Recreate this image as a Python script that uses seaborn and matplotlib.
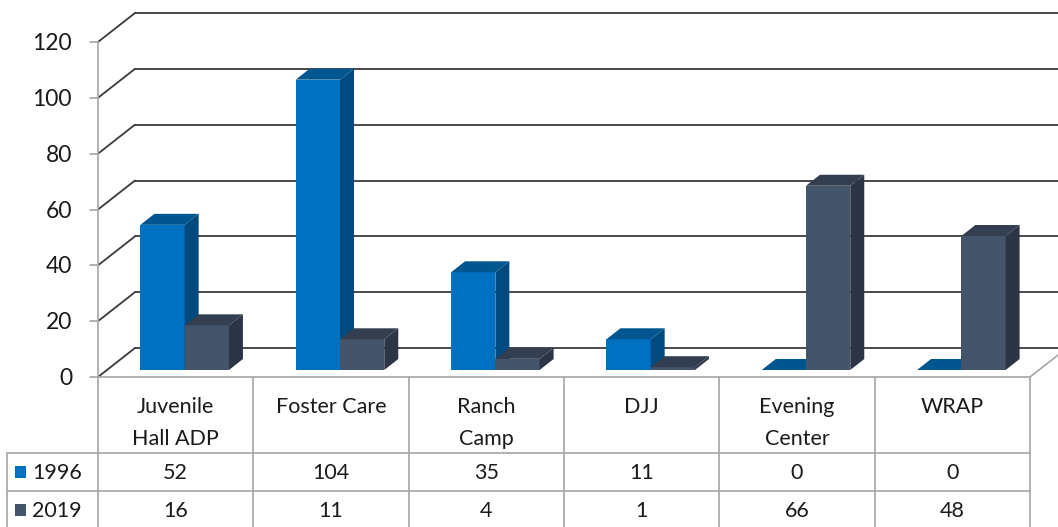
import matplotlib
matplotlib.use("Agg")
import matplotlib.pyplot as plt
import seaborn as sns
import pandas as pd
from matplotlib.patches import Polygon, Rectangle
from matplotlib.transforms import blended_transform_factory

# dados do gráfico
categorias = ["Juvenile\nHall ADP", "Foster Care", "Ranch\nCamp", "DJJ", "Evening\nCenter", "WRAP"]
series = ["1996", "2019"]
valores_1996 = [52, 104, 35, 11, 0, 0]
valores_2019 = [16, 11, 4, 1, 66, 48]
ticks_y = [0, 20, 40, 60, 80, 100, 120]

# cores de cada face das colunas (frente, lado, topo)
cores_frente = ["#0070C0", "#44546A"]
cores_lado = ["#004A80", "#2B3545"]
cores_topo = ["#00568F", "#333F50"]
cor_texto = "#1A1A1A"
cor_grade = "#3A3A3A"
cor_borda = "#A6A6A6"

sns.set_theme(style="white")
plt.rcParams["font.family"] = ["Lato", "DejaVu Sans"]

W, H = 1058, 527
fig = plt.figure(figsize=(W / 100, H / 100), dpi=100)
# plano frontal do gráfico: x 98..1030 px, y 377 (zero) .. 42 (120)
x0_px, x1_px, y0_px, y1_px = 98, 1030, 377, 42
ax = fig.add_axes([x0_px / W, (H - y0_px) / H, (x1_px - x0_px) / W, (y0_px - y1_px) / H])

df = pd.DataFrame({
    "categoria": categorias * 2,
    "serie": [s for s in series for _ in categorias],
    "valor": valores_1996 + valores_2019,
})
sns.barplot(data=df, x="categoria", y="valor", hue="serie", palette=cores_frente,
            width=0.57, saturation=1, linewidth=0, legend=False, ax=ax, zorder=3)
ax.set_xlim(-0.5, 5.5)
ax.set_ylim(0, 120)
ax.axis("off")

# conversão de pixels para unidades de dados
px_x = 6 / (x1_px - x0_px)
px_y = 120 / (y0_px - y1_px)
def dx(p):
    return p * px_x
def dy(p):
    return p * px_y

# parede do fundo: linhas de grade deslocadas em profundidade
prof_x, prof_y = dx(37), dy(29)
for t in ticks_y:
    ax.plot([-0.5, -0.5 + prof_x], [t, t + prof_y], color=cor_grade, lw=1.3, clip_on=False, zorder=1)
    ax.plot([-0.5 + prof_x, 5.5 + prof_x], [t + prof_y, t + prof_y], color=cor_grade, lw=1.3,
            clip_on=False, zorder=1)
    ax.plot([-0.5 - dx(8), -0.5], [t, t], color=cor_borda, lw=1.2, clip_on=False, zorder=1)
    ax.text(-0.5 - dx(26), t - dy(1.5), str(t), ha="right", va="center", fontsize=16.5, color=cor_texto)
ax.plot([-0.5, -0.5], [0, 120], color=cor_borda, lw=1.2, clip_on=False, zorder=1)
ax.plot([-0.5, 5.5, 5.5 + prof_x], [0, 0, prof_y], color=cor_borda, lw=1.2, clip_on=False, zorder=1)

# colunas em 3D: desloca a frente e acrescenta lado e topo
bx, by = dx(9), dy(7)
lado_x, lado_y = dx(14), dy(11)
barras = sorted(ax.patches, key=lambda p: p.get_x())
for i, p in enumerate(barras):
    s = i % 2
    x = p.get_x() + bx
    w = p.get_width()
    h = p.get_height()
    z = 3 + 2 * (i // 2) + s
    p.set_x(x)
    p.set_y(by)
    p.set_zorder(z)
    lado = Polygon([(x + w, by), (x + w, by + h), (x + w + lado_x, by + h + lado_y),
                    (x + w + lado_x, by + lado_y)], closed=True, facecolor=cores_lado[s],
                   edgecolor="none", zorder=z, clip_on=False)
    topo = Polygon([(x, by + h), (x + w, by + h), (x + w + lado_x, by + h + lado_y),
                    (x + lado_x, by + h + lado_y)], closed=True, facecolor=cores_topo[s],
                   edgecolor="none", zorder=z, clip_on=False)
    ax.add_patch(lado)
    ax.add_patch(topo)

# tabela de dados abaixo do gráfico
tr = blended_transform_factory(ax.transData, ax.transAxes)
def fy(py):
    return -(py - y0_px) / (y0_px - y1_px)

linhas_px = [377, 453, 491, 527]
esq = -0.5 - dx(91)
for k in range(7):
    ax.plot([k - 0.5, k - 0.5], [fy(377), fy(527)], color=cor_borda, lw=1.2, transform=tr, clip_on=False)
ax.plot([esq, esq], [fy(453), fy(527)], color=cor_borda, lw=1.2, transform=tr, clip_on=False)
for py in linhas_px[1:3]:
    ax.plot([esq, 5.5], [fy(py), fy(py)], color=cor_borda, lw=1.2, transform=tr, clip_on=False)

fs = 15.5
for j, cat in enumerate(categorias):
    ax.text(j, fy(397), cat, ha="center", va="top", fontsize=fs, color=cor_texto,
            linespacing=1.78, transform=tr)
    ax.text(j, fy(473), str(valores_1996[j]), ha="center", va="center", fontsize=fs,
            color=cor_texto, transform=tr)
    ax.text(j, fy(511), str(valores_2019[j]), ha="center", va="center", fontsize=fs,
            color=cor_texto, transform=tr)

for s, py in zip(range(2), [472, 510]):
    ax.add_patch(Rectangle((-0.5 - dx(83), fy(py + 6)), dx(11), fy(py - 6) - fy(py + 6),
                           facecolor=cores_frente[s], edgecolor="none", transform=tr, clip_on=False))
    ax.text(-0.5 - dx(66), fy(py + 1), series[s], ha="left", va="center", fontsize=fs,
            color=cor_texto, transform=tr)

fig.savefig("out.png", dpi=100, facecolor="white")
